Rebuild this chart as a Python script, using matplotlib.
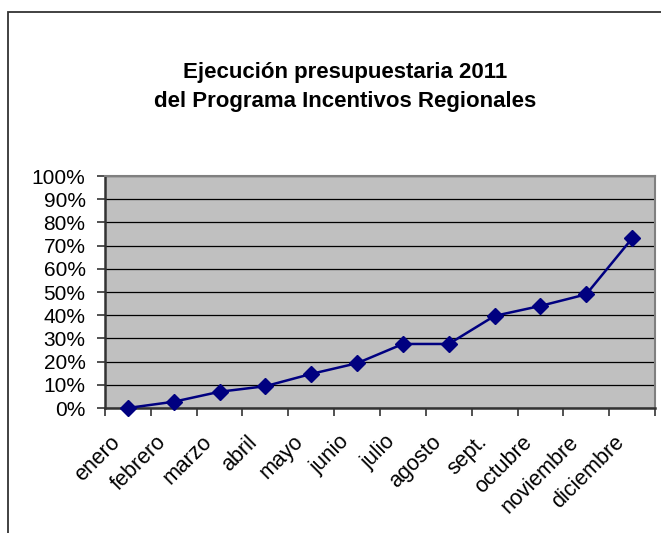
import numpy as np
import matplotlib
matplotlib.use('Agg')
import matplotlib.pyplot as plt
import matplotlib.transforms as mtransforms
from matplotlib.patches import Rectangle
from matplotlib.ticker import PercentFormatter

plt.rcParams['font.family'] = ['Liberation Sans', 'DejaVu Sans']

# datos
meses = ['enero', 'febrero', 'marzo', 'abril', 'mayo', 'junio', 'julio',
         'agosto', 'sept.', 'octubre', 'noviembre', 'diciembre']
ejecucion = [0.0, 2.7, 7.0, 9.4, 14.7, 19.3, 27.6, 27.6, 39.7, 44.0, 49.0, 73.1]
titulo = 'Ejecución presupuestaria 2011\ndel Programa Incentivos Regionales'

fig = plt.figure(figsize=[6.61, 5.33], dpi=100)

# marco exterior del grafico (cortado a la derecha y abajo)
fig.add_artist(Rectangle((8/661, -0.1), 1.2, 1 - 12/533 + 0.1, transform=fig.transFigure,
                         fill=False, edgecolor='#333333', lw=1.3))

ax = fig.add_axes([105/661, 1 - 408/533, 550/661, 232/533])
ax.set_facecolor('#c0c0c0')

x = np.arange(len(meses))
y = np.array(ejecucion) / 100
ax.plot(x, y, color='#000080', lw=1.8, marker='D', markersize=8.5,
        markerfacecolor='#000080', markeredgecolor='#000080', clip_on=False, zorder=3)

ax.set_xlim(-0.5, len(meses) - 0.5)
ax.set_ylim(0, 1)
ax.set_yticks(np.arange(0, 1.01, 0.1))
ax.yaxis.set_major_formatter(PercentFormatter(1.0, decimals=0))
ax.grid(axis='y', color='black', lw=0.9)
ax.set_axisbelow(True)

# ticks entre categorias, etiquetas centradas
ax.set_xticks(np.arange(-0.5, len(meses), 1))
ax.set_xticklabels([])
ax.set_xticks(x, minor=True)
ax.set_xticklabels(meses, minor=True, rotation=45, ha='right', va='center',
                   rotation_mode='anchor', fontsize=15.5)
ax.tick_params(axis='x', which='minor', length=0, pad=0)
ax.tick_params(axis='x', which='major', length=6, width=1.2, color='#333333')
ax.tick_params(axis='y', length=6, width=1.2, color='#333333', labelsize=15, pad=8)

off = mtransforms.ScaledTranslation(-11/100, -31/100, fig.dpi_scale_trans)
for lab in ax.get_xticklabels(minor=True):
    lab.set_transform(lab.get_transform() + off)

for s in ['left', 'bottom']:
    ax.spines[s].set_color('#333333')
    ax.spines[s].set_linewidth(1.8)
for s in ['top', 'right']:
    ax.spines[s].set_color('#808080')
    ax.spines[s].set_linewidth(1.5)

fig.text(345/661, 1 - 87/533, titulo, ha='center', va='center', fontsize=16,
         fontweight='bold', linespacing=1.5)

fig.savefig('out.png', dpi=100)
